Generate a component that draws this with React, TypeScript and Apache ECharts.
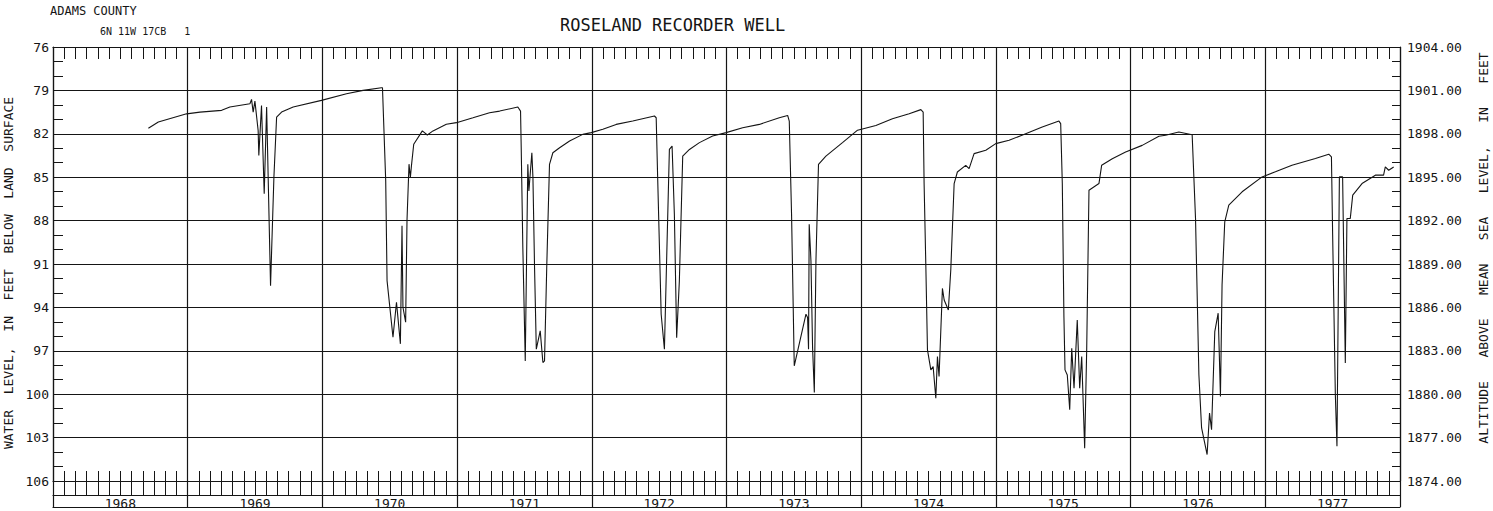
import React, { useEffect, useRef } from "react";
import * as echarts from "echarts";

const chartTitle = "ROSELAND RECORDER WELL";
const countyLabel = "ADAMS COUNTY";
const wellLabel = "6N 11W 17CB   1";
const leftAxisName = "WATER  LEVEL,  IN  FEET  BELOW  LAND  SURFACE";
const rightAxisName = "ALTITUDE   ABOVE   MEAN   SEA   LEVEL,   IN   FEET";

const yearLabels = ["1968", "1969", "1970", "1971", "1972", "1973", "1974", "1975", "1976", "1977"];
const yearStart = 1968;
const yearEnd = 1978;

const depthMin = 76;
const depthMax = 106;
const depthLabelStep = 3;
const altitudeMin = 1874;
const altitudeMax = 1904;

// decimal year of each reading
const obsYear = [
  1968.708, 1968.782, 1968.992, 1969.091, 1969.252, 1969.313, 1969.462, 1969.474, 1969.486, 1969.499,
  1969.523, 1969.528, 1969.548, 1969.568, 1969.586, 1969.615, 1969.64, 1969.66, 1969.697, 1969.783,
  1969.993, 1970.179, 1970.302, 1970.438, 1970.446, 1970.47, 1970.48, 1970.524, 1970.55, 1970.579,
  1970.591, 1970.598, 1970.618, 1970.628, 1970.643, 1970.653, 1970.661, 1970.678, 1970.742, 1970.779,
  1970.821, 1970.92, 1970.995, 1971.118, 1971.241, 1971.316, 1971.451, 1971.471, 1971.476, 1971.488,
  1971.506, 1971.525, 1971.533, 1971.555, 1971.563, 1971.575, 1971.588, 1971.617, 1971.637, 1971.649,
  1971.666, 1971.686, 1971.711, 1971.761, 1971.835, 1971.933, 1971.996, 1972.082, 1972.181, 1972.304,
  1972.465, 1972.478, 1972.489, 1972.515, 1972.539, 1972.576, 1972.596, 1972.613, 1972.63, 1972.65,
  1972.675, 1972.725, 1972.799, 1972.897, 1972.997, 1973.12, 1973.244, 1973.392, 1973.454, 1973.466,
  1973.483, 1973.503, 1973.59, 1973.602, 1973.609, 1973.614, 1973.627, 1973.639, 1973.652, 1973.664,
  1973.683, 1973.738, 1973.861, 1973.973, 1974.109, 1974.232, 1974.356, 1974.443, 1974.46, 1974.467,
  1974.48, 1974.492, 1974.517, 1974.534, 1974.554, 1974.566, 1974.578, 1974.603, 1974.616, 1974.647,
  1974.665, 1974.69, 1974.714, 1974.776, 1974.801, 1974.838, 1974.925, 1974.999, 1975.098, 1975.221,
  1975.344, 1975.468, 1975.481, 1975.493, 1975.505, 1975.513, 1975.53, 1975.548, 1975.563, 1975.58,
  1975.604, 1975.622, 1975.637, 1975.659, 1975.674, 1975.691, 1975.765, 1975.785, 1975.864, 1975.963,
  1976.086, 1976.21, 1976.26, 1976.358, 1976.457, 1976.482, 1976.507, 1976.527, 1976.568, 1976.586,
  1976.601, 1976.625, 1976.65, 1976.66, 1976.667, 1976.679, 1976.699, 1976.729, 1976.828, 1976.976,
  1977.075, 1977.198, 1977.372, 1977.471, 1977.491, 1977.5, 1977.52, 1977.532, 1977.55, 1977.574,
  1977.582, 1977.594, 1977.606, 1977.631, 1977.649, 1977.718, 1977.817, 1977.878, 1977.891, 1977.916,
  1977.953,
];

// water level, feet below land surface
const obsDepth = [
  81.61, 81.19, 80.62, 80.5, 80.38, 80.15, 79.92, 79.62, 80.5, 79.74,
  81.77, 83.5, 80.04, 86.15, 80.15, 92.5, 85.0, 80.85, 80.5, 80.15,
  79.69, 79.23, 79.0, 78.82, 78.82, 85.25, 92.15, 96.06, 93.64, 96.52,
  88.36, 93.99, 95.02, 88.01, 84.1, 85.02, 84.22, 82.72, 81.8, 82.08,
  81.8, 81.34, 81.23, 80.89, 80.54, 80.43, 80.15, 80.43, 82.96, 89.87,
  97.7, 84.11, 85.95, 83.31, 85.03, 91.25, 96.89, 95.62, 97.81, 97.7,
  91.02, 84.11, 83.31, 82.96, 82.5, 82.04, 81.92, 81.69, 81.35, 81.12,
  80.77, 80.89, 85.03, 94.47, 96.89, 83.08, 82.85, 87.57, 96.09, 92.17,
  83.54, 83.08, 82.61, 82.15, 81.92, 81.58, 81.35, 80.89, 80.73, 81.12,
  87.57, 98.04, 94.47, 94.7, 96.89, 88.26, 90.79, 96.78, 99.88, 90.79,
  84.11, 83.54, 82.61, 81.75, 81.42, 80.96, 80.61, 80.33, 80.5, 85.44,
  91.19, 96.94, 98.32, 98.09, 100.28, 97.4, 98.78, 92.69, 93.49, 94.18,
  91.42, 85.44, 84.64, 84.18, 84.41, 83.37, 83.14, 82.68, 82.45, 81.99,
  81.53, 81.12, 81.3, 85.44, 94.64, 98.32, 98.67, 101.08, 96.83, 99.59,
  94.87, 99.59, 97.4, 103.73, 96.94, 85.9, 85.44, 84.18, 83.72, 83.26,
  82.8, 82.17, 82.1, 81.87, 82.06, 87.85, 98.66, 102.33, 104.17, 101.3,
  102.45, 95.67, 94.4, 97.74, 100.15, 92.45, 88.08, 86.93, 86.01, 84.98,
  84.63, 84.17, 83.71, 83.41, 83.6, 89.0, 100.03, 103.6, 84.98, 84.98,
  90.15, 97.85, 87.85, 87.85, 86.24, 85.44, 84.86, 84.86, 84.29, 84.52,
  84.29,
];

const FONT = "'DejaVu Sans Mono', 'Liberation Mono', monospace";
const INK = "#151515";

export default function App() {
  const ref = useRef<HTMLDivElement>(null);

  useEffect(() => {
    if (!ref.current) return;
    const chart = echarts.init(ref.current, null, { renderer: "svg" });
    const data = obsYear.map((t, i) => [t, obsDepth[i]]);
    const axisLineStyle = { color: INK, width: 1.2 };
    const yearAxisBase = {
      type: "value",
      min: yearStart,
      max: yearEnd,
      interval: 1,
      axisLabel: { show: false },
      splitLine: { show: false },
    };

    const option: any = {
      animation: false,
      backgroundColor: "#ffffff",
      textStyle: { fontFamily: FONT, color: INK },
      title: [
        {
          text: chartTitle,
          left: 560,
          top: 16,
          padding: 0,
          textStyle: { fontFamily: FONT, fontSize: 17, fontWeight: "normal", color: INK },
        },
        {
          text: countyLabel,
          left: 50,
          top: 5,
          padding: 0,
          textStyle: { fontFamily: FONT, fontSize: 12, fontWeight: "normal", color: INK },
        },
        {
          text: wellLabel,
          left: 100,
          top: 26,
          padding: 0,
          textStyle: { fontFamily: FONT, fontSize: 10, fontWeight: "normal", color: INK },
        },
      ],
      grid: {
        left: 53,
        right: 93,
        top: 47,
        bottom: 30,
        containLabel: false,
        outerBoundsMode: "none",
      },
      xAxis: [
        {
          ...yearAxisBase,
          position: "bottom",
          axisLine: { show: true, lineStyle: axisLineStyle },
          axisTick: { show: true, inside: true, length: 10, lineStyle: { color: INK, width: 1 } },
          minorTick: { show: true, splitNumber: 12, length: 10, lineStyle: { color: INK, width: 1 } },
          splitLine: { show: true, lineStyle: { color: INK, width: 1.2 } },
        },
        {
          type: "category",
          data: yearLabels,
          position: "bottom",
          offset: 26,
          boundaryGap: true,
          axisLine: { show: true, lineStyle: axisLineStyle },
          axisTick: { show: true, inside: true, length: 26, lineStyle: { color: INK, width: 1.2 } },
          axisLabel: { inside: true, margin: -3, fontSize: 13, color: INK, fontFamily: FONT },
          splitLine: { show: false },
        },
        {
          ...yearAxisBase,
          position: "bottom",
          offset: 14,
          axisLine: { show: true, lineStyle: axisLineStyle },
          axisTick: { show: true, inside: true, length: 14, lineStyle: { color: INK, width: 1 } },
          minorTick: { show: true, splitNumber: 12, length: 14, lineStyle: { color: INK, width: 1 } },
        },
        {
          ...yearAxisBase,
          position: "top",
          axisLine: { show: true, lineStyle: axisLineStyle },
          axisTick: { show: true, inside: true, length: 12, lineStyle: { color: INK, width: 1 } },
          minorTick: { show: true, splitNumber: 12, length: 12, lineStyle: { color: INK, width: 1 } },
        },
      ],
      yAxis: [
        {
          type: "value",
          position: "left",
          min: depthMin,
          max: depthMax,
          interval: 1,
          inverse: true,
          axisLine: { show: true, lineStyle: axisLineStyle },
          axisTick: { show: true, inside: true, length: 10, lineStyle: { color: INK, width: 1 } },
          splitLine: {
            show: true,
            lineStyle: { color: [INK, "rgba(0,0,0,0)", "rgba(0,0,0,0)"], width: 1.2 },
          },
          axisLabel: {
            margin: 4,
            fontSize: 13,
            color: INK,
            fontFamily: FONT,
            formatter: (v: number) => ((v - depthMin) % depthLabelStep === 0 ? String(v) : ""),
          },
          name: leftAxisName,
          nameLocation: "middle",
          nameRotate: 90,
          nameGap: 32,
          nameTextStyle: { fontFamily: FONT, fontSize: 13, color: INK, padding: [0, 18, 0, 0] },
        },
        {
          type: "value",
          position: "right",
          min: altitudeMin,
          max: altitudeMax,
          interval: 1,
          axisLine: { show: true, lineStyle: axisLineStyle },
          axisTick: { show: true, inside: true, length: 8, lineStyle: { color: INK, width: 1 } },
          splitLine: { show: false },
          axisLabel: {
            margin: 7,
            fontSize: 13,
            color: INK,
            fontFamily: FONT,
            formatter: (v: number) => ((v - altitudeMin) % depthLabelStep === 0 ? v.toFixed(2) : ""),
          },
          name: rightAxisName,
          nameLocation: "middle",
          nameRotate: 90,
          nameGap: 77,
          nameTextStyle: { fontFamily: FONT, fontSize: 13, color: INK, padding: [0, 0, 0, 32] },
        },
      ],
      series: [
        {
          type: "line",
          xAxisIndex: 0,
          yAxisIndex: 0,
          data,
          showSymbol: false,
          symbol: "none",
          lineStyle: { color: INK, width: 1.1 },
          z: 5,
        },
      ],
    };

    chart.setOption(option);
    return () => chart.dispose();
  }, []);

  return (
    <div
      ref={ref}
      style={{ position: "fixed", left: 0, top: 0, width: 1493, height: 511, background: "#fff" }}
    />
  );
}
